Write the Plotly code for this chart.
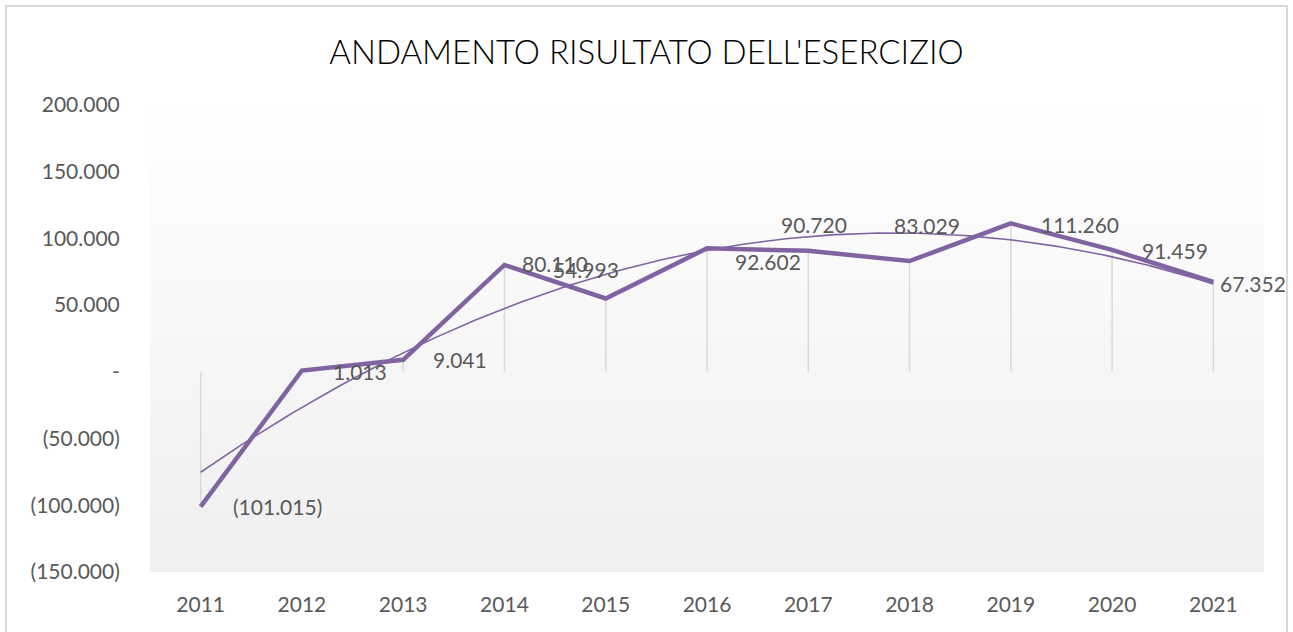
"""
Andamento risultato dell'esercizio 2011-2021, line chart with trendline.
"""

import numpy as np
import plotly.graph_objects as go

years = [2011, 2012, 2013, 2014, 2015, 2016, 2017, 2018, 2019, 2020, 2021]
risultato = [-101015, 1013, 9041, 80110, 54993, 92602, 90720, 83029, 111260, 91459, 67352]
y_ticks = [-150000, -100000, -50000, 0, 50000, 100000, 150000, 200000]

# label offsets in px from the point (left edge x, vertical centre y; y up)
label_dx = [30, 29, 28, 16, -55, 26, -29, -18, 28, 28, 5]
label_dy = [0, -1, 0, 1, 29, -13, 26, 36, -1, -1, -2]

PURPLE = '#8064A2'
GREY_TXT = '#595959'
FONT = 'Lato, Carlito, "Open Sans", sans-serif'


def fmt(v):
    """Excel-style Italian accounting format."""
    if v == 0:
        return '-'
    s = f'{abs(v):,}'.replace(',', '.')
    return f'({s})' if v < 0 else s


fig = go.Figure()

# plot area gradient background
fig.add_trace(go.Scatter(
    x=[2010.5, 2021.5, 2021.5, 2010.5, 2010.5],
    y=[-150000, -150000, 200000, 200000, -150000],
    fill='toself', mode='none',
    fillgradient=dict(type='vertical', colorscale=[[0, '#efefef'], [1, '#ffffff']]),
    hoverinfo='skip', showlegend=False,
))

# drop lines
drop_x, drop_y = [], []
for x, y in zip(years, risultato):
    drop_x += [x, x, None]
    drop_y += [0, y, None]
fig.add_trace(go.Scatter(
    x=drop_x, y=drop_y, mode='lines',
    line=dict(color='#d9d9d9', width=1.5),
    hoverinfo='skip', showlegend=False,
))

# polynomial (order 2) trendline
coef = np.polyfit(np.array(years) - 2011, risultato, 2)
tx = np.linspace(2011, 2021, 200)
fig.add_trace(go.Scatter(
    x=tx, y=np.polyval(coef, tx - 2011), mode='lines',
    line=dict(color=PURPLE, width=1.6),
    hoverinfo='skip', showlegend=False,
))

fig.add_trace(go.Scatter(
    x=years, y=risultato, mode='lines',
    line=dict(color=PURPLE, width=4.5),
    showlegend=False,
))

for x, y, dx, dy in zip(years, risultato, label_dx, label_dy):
    fig.add_annotation(
        x=x, y=y, text=fmt(y), showarrow=False,
        xanchor='left', yanchor='middle', xshift=dx, yshift=dy,
        font=dict(family=FONT, size=21, color=GREY_TXT),
    )

fig.update_xaxes(
    range=[2010.5, 2021.5], tickvals=years, ticktext=[str(y) for y in years],
    showgrid=False, zeroline=False, showline=False,
    ticks='outside', ticklen=14, tickcolor='rgba(0,0,0,0)',
    tickfont=dict(family=FONT, size=21, color=GREY_TXT),
)
fig.update_yaxes(
    range=[-150000, 200000], tickvals=y_ticks, ticktext=[fmt(v) for v in y_ticks],
    showgrid=False, zeroline=True, zerolinecolor='#d9d9d9', zerolinewidth=1.5,
    showline=False, ticks='outside', ticklen=25, tickcolor='rgba(0,0,0,0)',
    tickfont=dict(family=FONT, size=21, color=GREY_TXT),
)

fig.update_layout(
    width=1293, height=632,
    margin=dict(l=150, r=29, t=105, b=60),
    paper_bgcolor='white', plot_bgcolor='white',
    title=dict(
        text="ANDAMENTO RISULTATO DELL'ESERCIZIO",
        x=0.5, xanchor='center', y=1 - 52 / 632, yanchor='middle', yref='container',
        font=dict(family=FONT, size=33, color='#000000', weight=300),
    ),
    shapes=[dict(
        type='rect', xref='paper', yref='paper',
        x0=(6 - 150) / 1114, x1=(1287 - 150) / 1114,
        y0=(572 - 640) / 467, y1=(572 - 6) / 467,
        line=dict(color='#d9d9d9', width=2), fillcolor='rgba(0,0,0,0)',
        layer='below',
    )],
)

fig.write_html(
    "out.html",
    config={'displayModeBar': False},
    post_script="document.body.style.margin='0';",
)
